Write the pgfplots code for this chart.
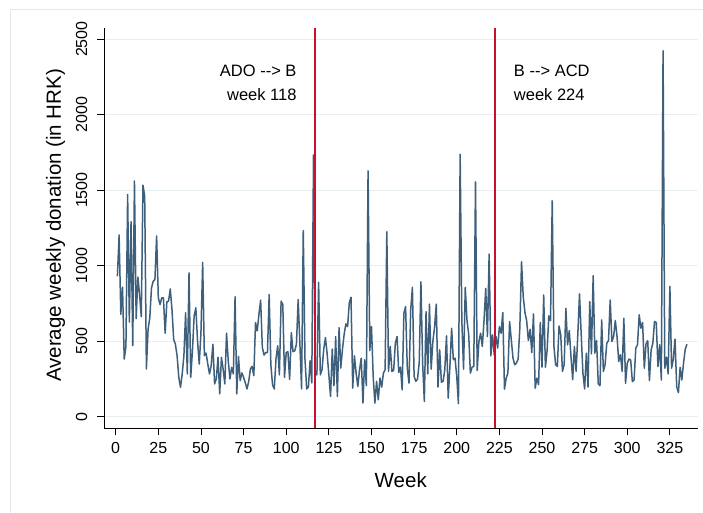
\documentclass[border=0pt]{standalone}
\usepackage{pgfplots}
\pgfplotsset{compat=1.18}
\usepackage{fontspec}
\setmainfont{Liberation Sans}
\definecolor{seriesc}{RGB}{62,96,124}
\definecolor{redline}{RGB}{200,16,46}
\definecolor{gridc}{RGB}{230,238,241}
\definecolor{framec}{RGB}{225,233,236}
\begin{document}
\begin{tikzpicture}[x=1pt,y=1pt]
\useasboundingbox (0,0) rectangle (703,-513);
\draw[framec, line width=1pt] (10,-513) -- (10,-10) -- (703,-10);
\begin{axis}[
  at={(104pt,-428.3pt)}, anchor=south west,
  scale only axis, width=593.5pt, height=400.3pt,
  xmin=-6.86, xmax=341.2, ymin=-76.8, ymax=2574,
  axis lines*=left,
  axis line style={black, line width=0.9pt},
  tick align=outside, major tick length=7pt,
  tick style={black, line width=0.9pt},
  xtick={0,25,...,325}, ytick={0,500,...,2500},
  ymajorgrids, grid style={gridc, line width=1pt},
  /pgf/number format/assume math mode=true,
  /pgf/number format/1000 sep={},
  ticklabel style={font=\fontsize{16}{19}\selectfont},
  xticklabel style={anchor=north, inner sep=0pt, yshift=-7pt},
  yticklabel style={rotate=90, anchor=base, inner sep=0pt, yshift=10pt},
  xlabel={Week},
  xlabel style={font=\fontsize{20.5}{24}\selectfont, at={(axis description cs:0.5,-0.149)}, anchor=base},
  ylabel={Average weekly donation (in HRK)},
  ylabel style={font=\fontsize{20.5}{24}\selectfont, at={(axis description cs:-0.0725,0.507)}, anchor=base},
  clip=false,
]
\addplot[draw=seriesc, line width=1.5pt, line join=round, mark=none] coordinates {
(1,930) (2,1204) (3,678) (4,858) (5,382) (6,465) (7,1471) (8,627) (9,1292) (10,470)
(11,1561) (12,649) (13,925) (14,809) (15,662) (16,1533) (17,1460) (18,316) (19,579) (20,656)
(21,853) (22,897) (23,908) (24,1197) (25,787) (26,743) (27,787) (28,787) (29,553) (30,761)
(31,765) (32,846) (33,711) (34,513) (35,480) (36,404) (37,261) (38,195) (39,283) (40,404)
(41,689) (42,283) (43,952) (44,261) (45,436) (46,667) (47,721) (48,502) (49,349) (50,557)
(51,1022) (52,404) (53,421) (54,349) (55,283) (56,338) (57,480) (58,217) (59,250) (60,393)
(61,151) (62,393) (63,316) (64,217) (65,553) (66,371) (67,250) (68,327) (69,283) (70,794)
(71,151) (72,399) (73,239) (74,290) (75,261) (76,224) (77,184) (78,233) (79,316) (80,333)
(81,272) (82,623) (83,568) (84,678) (85,772) (86,458) (87,408) (88,425) (89,425) (90,809)
(91,341) (92,210) (93,184) (94,382) (95,470) (96,277) (97,765) (98,743) (99,261) (100,425)
(101,430) (102,246) (103,557) (104,430) (105,436) (106,480) (107,776) (108,487) (109,184) (110,1232)
(111,382) (112,184) (113,195) (114,371) (115,224) (116,1733) (117,290) (118,277) (119,891) (120,277)
(121,312) (122,447) (123,524) (124,416) (125,278) (126,134) (127,447) (128,205) (129,531) (130,134)
(131,590) (132,322) (133,447) (134,548) (135,615) (136,597) (137,756) (138,791) (139,189) (140,403)
(141,289) (142,200) (143,311) (144,388) (145,90) (146,377) (147,205) (148,1628) (149,438) (150,597)
(151,267) (152,90) (153,234) (154,112) (155,256) (156,196) (157,289) (158,311) (159,1225) (160,300)
(161,465) (162,300) (163,306) (164,487) (165,531) (166,293) (167,328) (168,178) (169,685) (170,729)
(171,322) (172,223) (173,707) (174,857) (175,267) (176,234) (177,249) (178,359) (179,894) (180,355)
(181,101) (182,696) (183,284) (184,745) (185,315) (186,498) (187,593) (188,745) (189,196) (190,443)
(191,229) (192,234) (193,311) (194,535) (195,123) (196,333) (197,586) (198,377) (199,388) (200,267)
(201,86) (202,1738) (203,630) (204,315) (205,857) (206,641) (207,548) (208,289) (209,328) (210,333)
(211,1555) (212,306) (213,498) (214,553) (215,465) (216,637) (217,850) (218,531) (219,1077) (220,403)
(221,542) (222,410) (223,531) (224,454) (225,597) (226,553) (227,690) (228,183) (229,256) (230,289)
(231,630) (232,509) (233,388) (234,344) (235,355) (236,381) (237,586) (238,1026) (239,795) (240,690)
(241,637) (242,505) (243,579) (244,425) (245,681) (246,189) (247,256) (248,212) (249,624) (250,328)
(251,806) (252,328) (253,438) (254,667) (255,637) (256,1430) (257,465) (258,344) (259,333) (260,601)
(261,542) (262,300) (263,344) (264,718) (265,476) (266,570) (267,399) (268,245) (269,465) (270,300)
(271,542) (272,813) (273,542) (274,289) (275,183) (276,421) (277,196) (278,762) (279,416) (280,934)
(281,421) (282,504) (283,218) (284,205) (285,641) (286,300) (287,344) (288,487) (289,504) (290,773)
(291,498) (292,531) (293,637) (294,531) (295,366) (296,410) (297,300) (298,652) (299,221) (300,354)
(301,381) (302,376) (303,232) (304,243) (305,454) (306,476) (307,675) (308,586) (309,624) (310,321)
(311,482) (312,504) (313,239) (314,442) (315,487) (316,631) (317,624) (318,332) (319,476) (320,243)
(321,2423) (322,321) (323,394) (324,283) (325,863) (326,321) (327,381) (328,513) (329,199) (330,159)
(331,327) (332,243) (333,354) (334,447) (335,480)
};
\addplot[draw=redline, line width=1.6pt, mark=none] coordinates {(116.8,-76.8) (116.8,2574)};
\addplot[draw=redline, line width=1.6pt, mark=none] coordinates {(222.44,-76.8) (222.44,2574)};
\node[anchor=base east, font=\fontsize{16.5}{20}\selectfont] at (axis cs:108.1,2256) {ADO -{}-> B};
\node[anchor=base east, font=\fontsize{16.5}{20}\selectfont] at (axis cs:108.1,2091) {week 118};
\node[anchor=base west, font=\fontsize{16.5}{20}\selectfont] at (axis cs:231.5,2256) {B -{}-> ACD};
\node[anchor=base west, font=\fontsize{16.5}{20}\selectfont] at (axis cs:231.5,2091) {week 224};
\end{axis}
\end{tikzpicture}
\end{document}
